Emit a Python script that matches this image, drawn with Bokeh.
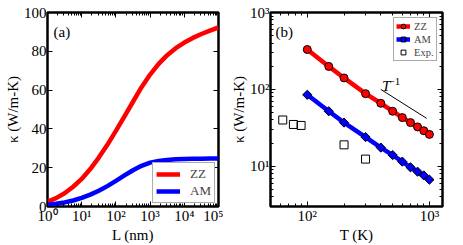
import math
from bokeh.plotting import figure
from bokeh.models import FixedTicker, LogAxis, LinearAxis, Legend, LegendItem, Label, Range1d
from bokeh.layouts import row
from bokeh.embed import file_html
from bokeh.resources import INLINE

# ---------------- data ----------------
# panel (a): kappa vs length
L_nm = [1, 1.78, 3.16, 5.62, 10, 17.8, 31.6, 56.2, 100, 178, 316, 562,
        1000, 1780, 3160, 5620, 10000, 17800, 31600, 56200, 100000]
kappa_zz_L = [2.5, 4.3, 6.8, 10.2, 14.2, 19.3, 25.2, 31.8, 39.0, 46.5, 54.0, 61.5,
              68.0, 73.5, 78.0, 81.6, 84.5, 86.9, 88.9, 90.7, 92.3]
kappa_am_L = [0.9, 1.4, 2.1, 3.1, 4.4, 6.1, 8.1, 10.5, 13.2, 16.0, 18.7, 21.0,
              22.6, 23.5, 24.0, 24.3, 24.45, 24.55, 24.65, 24.75, 24.8]

# panel (b): kappa vs temperature
T_K = [100, 150, 200, 300, 400, 500, 600, 700, 800, 900, 1000]
kappa_zz_T = [330, 199, 141, 88, 66, 52, 43, 37, 32.5, 29, 26]
kappa_am_T = [85, 52, 37, 24, 17.5, 14, 11.5, 9.7, 8.5, 7.6, 6.7]
T_exp = [63, 77, 89, 200, 300]
kappa_exp = [40, 35, 34, 19, 12.4]
guide_T = [400, 950]
guide_kappa = [100, 42]

# ticks
L_major = [1, 10, 100, 1000, 10000, 100000]
L_minor = [m * 10 ** k for k in range(5) for m in range(2, 10)]
kL_major = [0, 20, 40, 60, 80, 100]
T_major = [100, 1000]
T_minor = [50, 60, 70, 80, 90, 200, 300, 400, 500, 600, 700, 800, 900]
kT_major = [10, 100, 1000]
kT_minor = [3, 4, 5, 6, 7, 8, 9, 20, 30, 40, 50, 60, 70, 80, 90,
            200, 300, 400, 500, 600, 700, 800, 900]

FONT = "Liberation Serif"
RED = "#ff0000"
BLUE = "#0000ff"
SUP = str.maketrans("0123456789-", "⁰¹²³⁴⁵⁶⁷⁸⁹⁻")


def pow10(v):
    return "10" + str(int(round(math.log10(v)))).translate(SUP)


def style_axis(ax, labels=True, label_standoff=0):
    ax.axis_line_color = None
    ax.major_tick_in = 5
    ax.major_tick_out = 0
    ax.minor_tick_in = 3
    ax.minor_tick_out = 0
    ax.major_tick_line_color = "black"
    ax.minor_tick_line_color = "black"
    ax.major_tick_line_width = 1
    ax.minor_tick_line_width = 1
    if labels:
        ax.major_label_text_font = FONT
        ax.major_label_text_font_size = "15px"
        ax.major_label_text_color = "black"
        ax.major_label_standoff = 1
        ax.axis_label_text_font = FONT
        ax.axis_label_text_font_size = "15px"
        ax.axis_label_text_font_style = "normal"
        ax.axis_label_text_color = "black"
        ax.axis_label_standoff = label_standoff
    else:
        ax.major_label_text_font_size = "1px"
        ax.major_label_text_alpha = 0
        ax.major_label_standoff = 0


def base_fig(width, left, right, x_range, y_range, y_log):
    p = figure(width=width, height=245, output_backend="svg", toolbar_location=None,
               x_axis_type="log", y_axis_type="log" if y_log else "linear",
               x_range=x_range, y_range=y_range,
               min_border_left=left, min_border_right=right,
               min_border_top=12, min_border_bottom=36)
    p.xgrid.visible = False
    p.ygrid.visible = False
    p.outline_line_color = "black"
    p.outline_line_width = 2.5
    p.background_fill_color = "white"
    p.border_fill_color = "white"
    return p


# ---------------- panel (a) ----------------
pa = base_fig(223, 47, 5, Range1d(1, 100000), Range1d(0, 100), False)
pa.xaxis.ticker = FixedTicker(ticks=L_major, minor_ticks=L_minor)
pa.xaxis.major_label_overrides = {v: pow10(v) for v in L_major}
pa.yaxis.ticker = FixedTicker(ticks=kL_major, minor_ticks=[])
pa.xaxis.axis_label = "L (nm)"
pa.yaxis.axis_label = "κ (W/m-K)"
style_axis(pa.xaxis[0])
style_axis(pa.yaxis[0], label_standoff=0)
top_a = LogAxis(ticker=FixedTicker(ticks=L_major, minor_ticks=L_minor))
right_a = LinearAxis(ticker=FixedTicker(ticks=kL_major, minor_ticks=[]))
style_axis(top_a, False)
style_axis(right_a, False)
pa.add_layout(top_a, "above")
pa.add_layout(right_a, "right")

ra_zz = pa.line(L_nm, kappa_zz_L, line_color=RED, line_width=4.5, line_join="round")
ra_am = pa.line(L_nm, kappa_am_L, line_color=BLUE, line_width=4.5, line_join="round")

leg_a = Legend(items=[LegendItem(label="ZZ", renderers=[ra_zz]),
                      LegendItem(label="AM", renderers=[ra_am])],
               location="bottom_right", padding=3, spacing=1, glyph_width=24, glyph_height=12,
               label_height=12, label_standoff=10, label_text_font=FONT,
               label_text_font_size="13px", border_line_color="#555555",
               border_line_width=1, background_fill_color="white", background_fill_alpha=1,
               margin=3)
pa.add_layout(leg_a)
pa.add_layout(Label(x=1.5, y=94, text="(a)", text_baseline="top", text_font=FONT,
                    text_font_size="15px", text_color="black"))

# ---------------- panel (b) ----------------
pb = base_fig(232, 47, 13, Range1d(50, 1280), Range1d(3, 1000), True)
pb.xaxis.ticker = FixedTicker(ticks=T_major, minor_ticks=T_minor)
pb.xaxis.major_label_overrides = {v: pow10(v) for v in T_major}
pb.yaxis.ticker = FixedTicker(ticks=kT_major, minor_ticks=kT_minor)
pb.yaxis.major_label_overrides = {v: pow10(v) for v in kT_major}
pb.xaxis.axis_label = "T (K)"
pb.yaxis.axis_label = "κ (W/m-K)"
style_axis(pb.xaxis[0])
style_axis(pb.yaxis[0], label_standoff=0)
top_b = LogAxis(ticker=FixedTicker(ticks=T_major, minor_ticks=T_minor))
right_b = LogAxis(ticker=FixedTicker(ticks=kT_major, minor_ticks=kT_minor))
style_axis(top_b, False)
style_axis(right_b, False)
pb.add_layout(top_b, "above")
pb.add_layout(right_b, "right")

pb.line(guide_T, guide_kappa, line_color="black", line_width=1)
rb_zz_l = pb.line(T_K, kappa_zz_T, line_color=RED, line_width=4.5)
rb_zz_m = pb.scatter(T_K, kappa_zz_T, marker="circle", size=8, fill_color=RED,
                     line_color="black", line_width=1)
rb_am_l = pb.line(T_K, kappa_am_T, line_color=BLUE, line_width=4.5)
rb_am_m = pb.scatter(T_K, kappa_am_T, marker="square", angle=math.pi / 4, size=6.5,
                     fill_color=BLUE, line_color="black", line_width=1)
rb_exp = pb.scatter(T_exp, kappa_exp, marker="square", size=8, fill_color="white",
                    fill_alpha=0, line_color="black", line_width=1)

leg_b = Legend(items=[LegendItem(label="ZZ", renderers=[rb_zz_l, rb_zz_m]),
                      LegendItem(label="AM", renderers=[rb_am_l, rb_am_m]),
                      LegendItem(label="Exp.", renderers=[rb_exp])],
               location="top_right", margin=5, padding=2, spacing=1, glyph_width=14,
               glyph_height=12, label_height=12, label_standoff=4, label_text_font=FONT,
               label_text_font_size="10.5px", border_line_color="#555555",
               border_line_width=1, background_fill_color="white", background_fill_alpha=1)
pb.add_layout(leg_b)
pb.add_layout(Label(x=55, y=700, text="(b)", text_baseline="top", text_font=FONT,
                    text_font_size="15px", text_color="black"))
pb.add_layout(Label(x=410, y=112, text="T", text_baseline="alphabetic", text_font=FONT,
                    text_font_size="15px", text_font_style="italic", text_color="black"))
pb.add_layout(Label(x=462, y=126, text="−1", text_baseline="alphabetic", text_font=FONT,
                    text_font_size="11px", text_color="black"))

layout = row(pa, pb)
open("out.html", "w").write(file_html(layout, INLINE))
